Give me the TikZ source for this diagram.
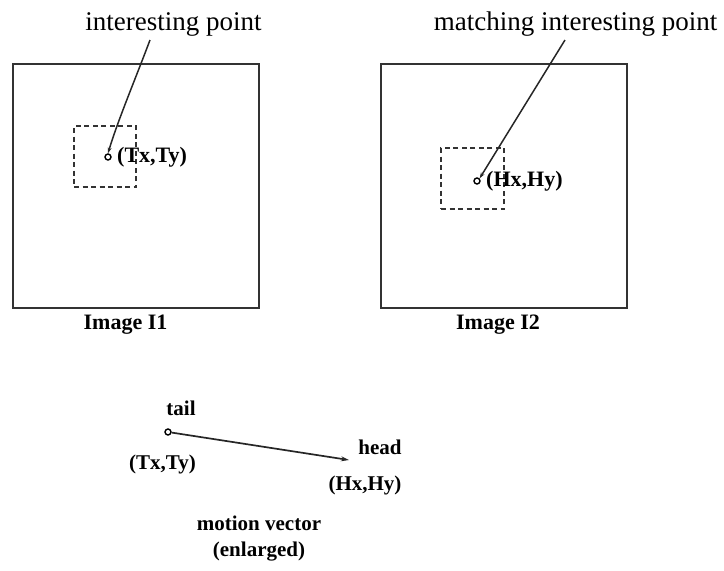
\documentclass[tikz,border=0pt]{standalone}
\usepackage{fontspec}
\setmainfont{Liberation Serif}
\usetikzlibrary{arrows.meta}
\begin{document}
\begin{tikzpicture}[x=1pt,y=-1pt,
  frame/.style={draw=black!80, line width=2pt},
  dashbox/.style={draw=black!80, line width=1.5pt, dash pattern=on 5pt off 3.5pt},
  pt/.style={circle, draw=black, line width=1.4pt, minimum size=6pt, inner sep=0pt},
  toplabel/.style={inner sep=0pt, font=\fontsize{27}{30}\selectfont},
  blabel/.style={inner sep=0pt, font=\fontsize{21}{24}\selectfont\bfseries},
  leader/.style={draw=black!85, line width=1.5pt, -{Stealth[length=6pt,width=4pt]}},
  vec/.style={draw=black!85, line width=1.7pt, -{Stealth[length=8pt,width=5pt]}}]
\useasboundingbox (0,0) rectangle (724,571);
% image frames
\node[frame, minimum width=246pt, minimum height=244pt, inner sep=0pt] (f1) at (135.5,186) {};
\node[frame, minimum width=246pt, minimum height=244pt, inner sep=0pt] (f2) at (504,186) {};
% dashed windows
\node[dashbox, minimum width=62pt, minimum height=61pt, inner sep=0pt] (w1) at (105,156.5) {};
\node[dashbox, minimum width=63pt, minimum height=61pt, inner sep=0pt] (w2) at (472.5,178.5) {};
% points
\node[pt] (c1) at (108,157) {};
\node[pt] (c2) at (477,181) {};
\node[blabel, anchor=west, font=\fontsize{22}{24}\selectfont\bfseries] (t1) at (117,157) {(Tx,Ty)};
\node[blabel, anchor=west, font=\fontsize{22}{24}\selectfont\bfseries] (t2) at (486,181) {(Hx,Hy)};
% top labels
\node[toplabel] (L1) at (173.5,24) {interesting point};
\node[toplabel] (L2) at (575.5,24) {matching interesting point};
\coordinate (s1) at (150,40);
\coordinate (s2) at (565,40);
\draw[leader] (s1) .. controls (135,80) and (118,120) .. (c1.north);
\draw[leader] (s2) -- (c2.north east);
% captions
\node[blabel, font=\fontsize{22}{24}\selectfont\bfseries] (cap1) at (125.5,325) {Image I1};
\node[blabel, font=\fontsize{22}{24}\selectfont\bfseries] (cap2) at (498,325) {Image I2};
% motion vector
\node[pt] (tail) at (168,432) {};
\coordinate (head) at (349,460);
\draw[vec] (tail) -- (head);
\node[blabel] (tl) at (181,408) {tail};
\node[blabel] (tt) at (162.5,464) {(Tx,Ty)};
\node[blabel] (hl) at (380,447) {head};
\node[blabel] (ht) at (365,485) {(Hx,Hy)};
\node[blabel] (mv) at (259,523) {motion vector};
\node[blabel] (en) at (259,552) {(enlarged)};
\end{tikzpicture}
\end{document}
